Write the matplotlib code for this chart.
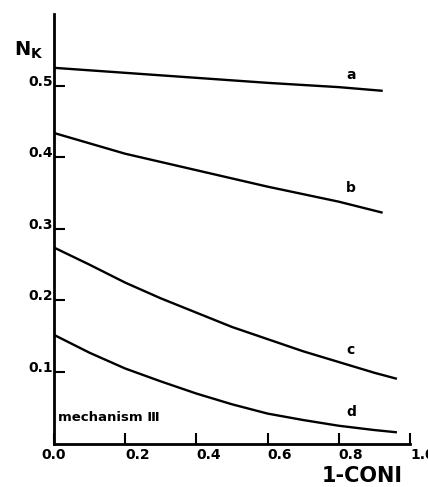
import matplotlib
matplotlib.use("Agg")
import matplotlib.pyplot as plt

# Values
x_ab = [0.0, 0.2, 0.4, 0.6, 0.8, 0.92]
y_a = [0.525, 0.518, 0.511, 0.504, 0.498, 0.493]
y_b = [0.434, 0.405, 0.382, 0.359, 0.338, 0.323]

x_cd = [0.0, 0.1, 0.2, 0.3, 0.4, 0.5, 0.6, 0.7, 0.8, 0.9, 0.96]
y_c = [0.274, 0.250, 0.225, 0.203, 0.183, 0.163, 0.146, 0.129, 0.114, 0.099, 0.091]
y_d = [0.152, 0.127, 0.105, 0.087, 0.070, 0.055, 0.042, 0.033, 0.025, 0.019, 0.016]

curve_labels = ["a", "b", "c", "d"]
label_pos = [(0.82, 0.505), (0.82, 0.347), (0.82, 0.121), (0.82, 0.034)]

xticks = [0.0, 0.2, 0.4, 0.6, 0.8, 1.0]
xtick_labels = ["0.0", "0.2", "0.4", "0.6", "0.8", "1.0"]
yticks = [0.1, 0.2, 0.3, 0.4, 0.5]
ytick_labels = ["0.1", "0.2", "0.3", "0.4", "0.5"]

fig = plt.figure(figsize=(4.28, 4.87), dpi=100)
ax = fig.add_axes([0.126, 0.089, 0.832, 0.882])

for xs, ys in [(x_ab, y_a), (x_ab, y_b), (x_cd, y_c), (x_cd, y_d)]:
    ax.plot(xs, ys, color="black", lw=1.7)

for lab, (lx, ly) in zip(curve_labels, label_pos):
    ax.text(lx, ly, lab, fontsize=10, fontweight="bold", ha="left", va="bottom")

ax.text(0.012, 0.036, "mechanism \u2162", fontsize=9.5, fontweight="bold", ha="left", va="center")

ax.set_xlim(0, 1.0)
ax.set_ylim(0, 0.6)
for side in ["top", "right"]:
    ax.spines[side].set_visible(False)
ax.spines["left"].set_linewidth(2)
ax.spines["bottom"].set_linewidth(2)

ax.set_xticks(xticks)
ax.set_xticklabels(xtick_labels, fontsize=10, fontweight="bold")
ax.set_yticks(yticks)
ax.set_yticklabels(ytick_labels, fontsize=10, fontweight="bold")
ax.tick_params(direction="in", length=8, width=1.5, pad=3)
ax.tick_params(axis="y", pad=1)
for lbl in ax.get_xticklabels()[1:]:
    lbl.set_ha("left")
for lbl in ax.get_yticklabels():
    lbl.set_va("baseline")

fig.text(0.033, 0.875, r"$\mathbf{N_K}$", fontsize=14, ha="left", va="bottom")
fig.text(0.942, 0.003, "1-CONI", fontsize=15, fontweight="heavy", ha="right", va="bottom")

fig.savefig("out.png", dpi=100)
